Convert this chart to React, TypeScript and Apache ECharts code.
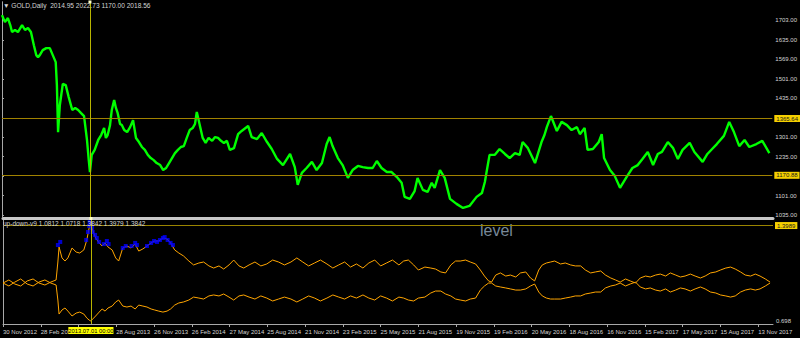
import React, { useEffect, useRef } from "react";
import * as echarts from "echarts";

// ---------- data ----------
const BARS_PER_TICK = 64;
const LAST_BAR = 1305;
const dateLabels = [
  "30 Nov 2012", "28 Feb 2013", "28 May 2013", "28 Aug 2013", "26 Nov 2013",
  "26 Feb 2014", "27 May 2014", "25 Aug 2014", "21 Nov 2014", "23 Feb 2015",
  "25 May 2015", "21 Aug 2015", "19 Nov 2015", "19 Feb 2016", "20 May 2016",
  "18 Aug 2016", "16 Nov 2016", "15 Feb 2017", "17 May 2017", "15 Aug 2017",
  "13 Nov 2017",
];

const goldBars = [
  0, 5, 10, 14, 17, 22, 27, 34, 39, 44,
  49, 54, 58, 61, 64, 69, 75, 81, 86, 91,
  93, 95, 98, 103, 108, 113, 119, 124, 129, 134,
  139, 144, 147, 149, 152, 157, 163, 168, 173, 176,
  179, 183, 186, 190, 193, 196, 200, 203, 207, 212,
  217, 222, 227, 232, 237, 242, 247, 252, 257, 262,
  268, 273, 278, 283, 288, 293, 298, 303, 308, 313,
  318, 323, 327, 330, 335, 340, 345, 350, 356, 361,
  366, 371, 376, 381, 386, 393, 400, 406, 417, 423,
  432, 440, 449, 457, 466, 476, 488, 496, 501, 508,
  516, 525, 533, 542, 550, 555, 560, 569, 577, 586,
  594, 603, 611, 620, 628, 635, 643, 652, 660, 669,
  677, 682, 691, 699, 704, 713, 721, 728, 733, 742,
  750, 759, 770, 781, 792, 804, 813, 818, 823, 826,
  835, 843, 852, 860, 869, 877, 882, 891, 903, 914,
  919, 923, 930, 940, 948, 957, 965, 974, 979, 987,
  992, 1001, 1011, 1016, 1020, 1030, 1038, 1047, 1058, 1068,
  1077, 1085, 1094, 1103, 1111, 1118, 1128, 1137, 1145, 1153,
  1165, 1173, 1187, 1195, 1203, 1211, 1223, 1232, 1240, 1249,
  1258, 1266, 1278, 1288, 1300,
];
const goldClose = [
  1720, 1696, 1710, 1686, 1662, 1669, 1662, 1686, 1669, 1676,
  1662, 1617, 1583, 1576, 1583, 1600, 1607, 1607, 1583, 1559,
  1480, 1319, 1412, 1484, 1480, 1439, 1395, 1402, 1395, 1384,
  1374, 1292, 1223, 1182, 1241, 1258, 1292, 1309, 1333, 1299,
  1309, 1343, 1395, 1429, 1402, 1384, 1347, 1343, 1326, 1319,
  1336, 1360, 1299, 1285, 1268, 1258, 1241, 1230, 1223, 1213,
  1206, 1189, 1196, 1213, 1230, 1247, 1258, 1268, 1271, 1299,
  1326, 1333, 1347, 1388, 1343, 1299, 1282, 1299, 1289, 1302,
  1299, 1289, 1282, 1289, 1258, 1264, 1312, 1323, 1340, 1302,
  1295, 1316, 1285, 1261, 1227, 1206, 1244, 1199, 1138, 1179,
  1196, 1217, 1189, 1213, 1278, 1302, 1271, 1230, 1206, 1162,
  1189, 1203, 1199, 1196, 1196, 1220, 1196, 1182, 1182, 1165,
  1145, 1097, 1090, 1117, 1162, 1121, 1114, 1145, 1128, 1189,
  1162, 1090, 1073, 1059, 1066, 1097, 1110, 1148, 1206, 1241,
  1241, 1261, 1244, 1230, 1247, 1241, 1285, 1264, 1213, 1285,
  1309, 1336, 1374, 1323, 1354, 1343, 1326, 1336, 1312, 1333,
  1258, 1261, 1285, 1312, 1230, 1189, 1169, 1128, 1165, 1196,
  1206, 1227, 1251, 1206, 1244, 1251, 1285, 1264, 1227, 1258,
  1282, 1251, 1217, 1244, 1261, 1278, 1306, 1354, 1319, 1271,
  1292, 1268, 1278, 1289, 1247,
];

const priceTicks = [1035, 1101, 1169, 1235, 1301, 1367, 1435, 1501, 1569, 1635, 1703];
const priceLabels = [1035, 1101, 1235, 1301, 1435, 1501, 1569, 1635, 1703];
const priceLevels = [1365.64, 1170.88];
const markedBar = 149;
const markedBarLabel = "2013.07.01 00:00";

const indBars = [
  0, 10, 20, 30, 41, 51, 61, 71, 81, 90,
  93, 95, 100, 105, 110, 117, 124, 130, 137, 142,
  146, 149, 152, 157, 163, 168, 173, 178, 185, 191,
  196, 203, 210, 217, 224, 230, 237, 244, 251, 257,
  264, 271, 278, 284, 291, 298, 306, 315, 323, 332,
  340, 349, 357, 366, 374, 383, 391, 400, 408, 417,
  427, 437, 447, 457, 467, 477, 488, 498, 508, 518,
  528, 538, 549, 559, 569, 579, 589, 599, 610, 620,
  630, 640, 650, 660, 671, 679, 687, 696, 704, 715,
  725, 733, 742, 750, 759, 767, 775, 784, 792, 801,
  809, 816, 823, 828, 835, 843, 852, 860, 869, 877,
  886, 894, 901, 908, 914, 921, 928, 935, 945, 953,
  962, 970, 979, 987, 996, 1004, 1013, 1021, 1030, 1038,
  1046, 1055, 1063, 1072, 1080, 1089, 1097, 1106, 1114, 1123,
  1131, 1140, 1148, 1156, 1165, 1173, 1182, 1190, 1199, 1208,
  1216, 1225, 1233, 1241, 1250, 1258, 1267, 1275, 1283, 1292,
  1300,
];
const upLine = [
  0.990, 1.012, 0.983, 0.969, 1.005, 1.019, 0.990, 0.976, 0.997, 1.012,
  1.140, 1.247, 1.169, 1.147, 1.169, 1.240, 1.211, 1.204, 1.226, 1.297,
  1.383, 1.411, 1.368, 1.311, 1.276, 1.254, 1.276, 1.247, 1.226, 1.169,
  1.147, 1.240, 1.254, 1.240, 1.268, 1.218, 1.233, 1.254, 1.276, 1.290,
  1.290, 1.311, 1.304, 1.276, 1.226, 1.204, 1.183, 1.147, 1.119, 1.133,
  1.140, 1.112, 1.097, 1.112, 1.090, 1.119, 1.154, 1.112, 1.097, 1.119,
  1.140, 1.112, 1.126, 1.154, 1.140, 1.119, 1.140, 1.169, 1.140, 1.112,
  1.133, 1.154, 1.126, 1.097, 1.119, 1.140, 1.104, 1.126, 1.097, 1.133,
  1.154, 1.112, 1.133, 1.154, 1.119, 1.147, 1.154, 1.119, 1.083, 1.104,
  1.097, 1.090, 1.069, 1.062, 1.119, 1.147, 1.147, 1.154, 1.140, 1.126,
  1.083, 1.040, 1.005, 0.997, 1.047, 1.062, 1.040, 1.047, 1.033, 1.062,
  1.069, 1.026, 1.005, 1.083, 1.119, 1.133, 1.140, 1.147, 1.126, 1.133,
  1.119, 1.112, 1.112, 1.083, 1.062, 1.069, 1.076, 1.047, 1.026, 1.012,
  0.997, 1.019, 1.005, 0.990, 1.026, 1.040, 1.033, 1.047, 1.054, 1.040,
  1.062, 1.047, 1.033, 1.040, 1.054, 1.040, 1.026, 1.040, 1.062, 1.069,
  1.083, 1.097, 1.104, 1.090, 1.069, 1.047, 1.040, 1.054, 1.040, 1.019,
  0.997,
];
const downLine = [
  0.990, 0.969, 0.997, 1.019, 0.983, 0.969, 0.997, 1.012, 0.990, 0.976,
  0.869, 0.769, 0.798, 0.812, 0.790, 0.755, 0.776, 0.783, 0.769, 0.741,
  0.726, 0.719, 0.733, 0.755, 0.783, 0.805, 0.790, 0.812, 0.826, 0.855,
  0.869, 0.826, 0.819, 0.826, 0.805, 0.833, 0.826, 0.819, 0.805, 0.798,
  0.790, 0.783, 0.790, 0.805, 0.833, 0.848, 0.855, 0.869, 0.890, 0.883,
  0.876, 0.898, 0.905, 0.898, 0.912, 0.890, 0.869, 0.898, 0.905, 0.890,
  0.876, 0.898, 0.883, 0.862, 0.876, 0.890, 0.876, 0.855, 0.876, 0.898,
  0.883, 0.862, 0.883, 0.905, 0.890, 0.876, 0.898, 0.883, 0.905, 0.883,
  0.869, 0.898, 0.883, 0.862, 0.890, 0.883, 0.869, 0.862, 0.883, 0.890,
  0.919, 0.933, 0.933, 0.912, 0.898, 0.876, 0.869, 0.862, 0.876, 0.883,
  0.940, 0.969, 0.990, 0.990, 0.969, 0.962, 0.955, 0.948, 0.940, 0.940,
  0.948, 0.969, 0.983, 0.926, 0.898, 0.883, 0.876, 0.876, 0.876, 0.883,
  0.890, 0.898, 0.898, 0.912, 0.919, 0.926, 0.926, 0.955, 0.969, 0.976,
  0.990, 0.969, 0.983, 0.997, 0.962, 0.948, 0.955, 0.940, 0.933, 0.948,
  0.926, 0.940, 0.955, 0.948, 0.933, 0.948, 0.962, 0.948, 0.926, 0.919,
  0.905, 0.898, 0.890, 0.898, 0.926, 0.940, 0.948, 0.940, 0.948, 0.969,
  0.990,
];
const signalBars = [
  93, 97, 141, 144, 146, 147, 149, 151, 152, 156,
  159, 163, 171, 176, 179, 203, 208, 218, 224, 227,
  244, 251, 256, 261, 266, 271, 274, 279, 284, 288,
];
const signalVals = [
  1.261, 1.283, 1.297, 1.354, 1.397, 1.425, 1.411, 1.383, 1.354, 1.333,
  1.311, 1.283, 1.268, 1.290, 1.268, 1.240, 1.254, 1.254, 1.276, 1.261,
  1.254, 1.276, 1.290, 1.283, 1.297, 1.311, 1.318, 1.297, 1.276, 1.261,
];
const indLevel = 1.3989;
const indMin = 0.698;
const indMax = 1.4502;
const mainTitle = "▼ GOLD,Daily  2014.95 2022.73 1170.00 2018.56";
const indTitle = "up-down-v9 1.0812 1.0718 1.3842 1.3979 1.3842";
const levelText = "level";

// ---------- chart ----------
const FONT = "Liberation Sans";
const AXIS_GRAY = "#a8a8a8";
const LABEL_COLOR = "#d4d4d4";
// tick labels that lie under the cursor's date tag are not drawn (as in the terminal)
const TAG_HALF_BARS = 40;

export default function App() {
  const ref = useRef<HTMLDivElement>(null);

  useEffect(() => {
    if (!ref.current) return;
    const chart = echarts.init(ref.current, undefined, { renderer: "svg" });

    const yellowTag = {
      show: true,
      position: "end",
      distance: 2,
      backgroundColor: "#f5d000",
      color: "#1a1a1a",
      fontSize: 6,
      fontFamily: FONT,
      padding: [1, 2, 0, 2],
    };

    const option: any = {
      animation: false,
      backgroundColor: "#000000",
      title: [
        {
          text: mainTitle,
          left: 3,
          top: 2,
          padding: 0,
          textStyle: { color: LABEL_COLOR, fontSize: 6.6, fontWeight: "normal", fontFamily: FONT },
        },
        {
          text: indTitle,
          left: 3,
          top: 220,
          padding: 0,
          textStyle: { color: LABEL_COLOR, fontSize: 6.5, fontWeight: "normal", fontFamily: FONT },
        },
      ],
      graphic: [
        {
          type: "text",
          left: 480,
          top: 222,
          z: 5,
          style: { text: levelText, font: `16px "${FONT}"`, fill: "#778899" },
        },
      ],
      grid: [
        { left: 2, right: 27, top: 2, height: 215 },
        { left: 2, right: 27, top: 218.5, height: 105.5 },
      ],
      xAxis: [
        {
          gridIndex: 0, type: "value", min: 0, max: LAST_BAR, interval: BARS_PER_TICK,
          axisLine: { show: false }, axisTick: { show: false }, axisLabel: { show: false },
          splitLine: { show: false },
        },
        {
          gridIndex: 1, type: "value", min: 0, max: LAST_BAR, interval: BARS_PER_TICK,
          axisLine: { show: true, onZero: false, lineStyle: { color: AXIS_GRAY } },
          axisTick: { show: true, length: 3, lineStyle: { color: AXIS_GRAY } },
          axisLabel: {
            formatter: (v: number) =>
              Math.abs(v - markedBar) < TAG_HALF_BARS
                ? ""
                : dateLabels[Math.round(v / BARS_PER_TICK)] ?? "",
            align: "left", color: LABEL_COLOR, fontSize: 6, fontFamily: FONT, margin: 5,
          },
          splitLine: { show: false },
        },
        {
          gridIndex: 1, type: "value", position: "top", min: 0, max: LAST_BAR,
          axisLine: { show: true, onZero: false, lineStyle: { color: "#c8c8c8", width: 3 } },
          axisTick: { show: false }, axisLabel: { show: false }, splitLine: { show: false },
        },
      ],
      yAxis: [
        {
          gridIndex: 0, type: "value", position: "right", min: 1028, max: 1765,
          axisLine: { show: true, lineStyle: { color: AXIS_GRAY } },
          axisTick: { show: true, length: 2, customValues: priceTicks, lineStyle: { color: AXIS_GRAY } },
          axisLabel: {
            customValues: priceLabels, formatter: (v: number) => v.toFixed(2),
            color: LABEL_COLOR, fontSize: 6, fontFamily: FONT, margin: 3,
          },
          splitLine: { show: false },
        },
        {
          gridIndex: 1, type: "value", position: "right", min: indMin, max: indMax,
          axisLine: { show: true, lineStyle: { color: AXIS_GRAY } },
          axisTick: { show: true, length: 2, customValues: [indMin], lineStyle: { color: AXIS_GRAY } },
          axisLabel: {
            customValues: [indMin], formatter: (v: number) => v.toFixed(3),
            verticalAlign: "bottom", color: LABEL_COLOR, fontSize: 6, fontFamily: FONT, margin: 3,
          },
          splitLine: { show: false },
        },
        {
          gridIndex: 0, type: "value", position: "left",
          axisLine: { show: true, lineStyle: { color: AXIS_GRAY } },
          axisTick: { show: false }, axisLabel: { show: false }, splitLine: { show: false },
        },
        {
          gridIndex: 1, type: "value", position: "left",
          axisLine: { show: true, lineStyle: { color: AXIS_GRAY } },
          axisTick: { show: false }, axisLabel: { show: false }, splitLine: { show: false },
        },
      ],
      series: [
        {
          type: "line", name: "GOLD,Daily", xAxisIndex: 0, yAxisIndex: 0,
          data: goldBars.map((b, i) => [b, goldClose[i]]),
          symbol: "none", lineStyle: { color: "#00ff00", width: 2.4 },
          z: 3,
          markLine: {
            silent: true, symbol: "none", animation: false,
            data: [
              ...priceLevels.map((v) => ({
                yAxis: v,
                lineStyle: { color: "#a08200", width: 1, type: "solid" },
                label: { ...yellowTag, formatter: v.toFixed(2) },
              })),
              {
                xAxis: markedBar,
                lineStyle: { color: "#b8b400", width: 1, type: "solid" },
                label: { show: false },
              },
            ],
          },
          markPoint: {
            silent: true, animation: false, symbol: "rect", symbolSize: 3,
            itemStyle: { color: "#ffffc8" }, label: { show: false },
            data: [{ coord: [markedBar, 1765] }],
          },
        },
        {
          type: "line", name: "up", xAxisIndex: 1, yAxisIndex: 1,
          data: indBars.map((b, i) => [b, upLine[i]]),
          symbol: "none", lineStyle: { color: "#ffa500", width: 1 },
          markLine: {
            silent: true, symbol: "none", animation: false,
            data: [
              {
                yAxis: indLevel,
                lineStyle: { color: "#9a8400", width: 1, type: "solid" },
                label: { ...yellowTag, formatter: indLevel.toFixed(4) },
              },
              {
                xAxis: markedBar,
                lineStyle: { color: "#b8b400", width: 1, type: "solid" },
                label: {
                  show: true, position: "start", distance: 3,
                  formatter: markedBarLabel, backgroundColor: "#ffff00", color: "#000000",
                  fontSize: 5.8, fontFamily: FONT, padding: [1, 0, 0, 0],
                },
              },
            ],
          },
          markPoint: {
            silent: true, animation: false, symbol: "rect", symbolSize: 3,
            itemStyle: { color: "#ffffc8" }, label: { show: false },
            data: [{ coord: [markedBar, indMax] }],
          },
        },
        {
          type: "line", name: "down", xAxisIndex: 1, yAxisIndex: 1,
          data: indBars.map((b, i) => [b, downLine[i]]),
          symbol: "none", lineStyle: { color: "#ffa500", width: 1 },
        },
        {
          type: "scatter", name: "signal", xAxisIndex: 1, yAxisIndex: 1,
          data: signalBars.map((b, i) => [b, signalVals[i]]),
          symbol: "rect", symbolSize: 4, itemStyle: { color: "#0000ff" },
          z: 4,
        },
      ],
    };

    chart.setOption(option);
    return () => chart.dispose();
  }, []);

  return (
    <div
      ref={ref}
      style={{ position: "fixed", left: 0, top: 0, width: 800, height: 338, background: "#000" }}
    />
  );
}
